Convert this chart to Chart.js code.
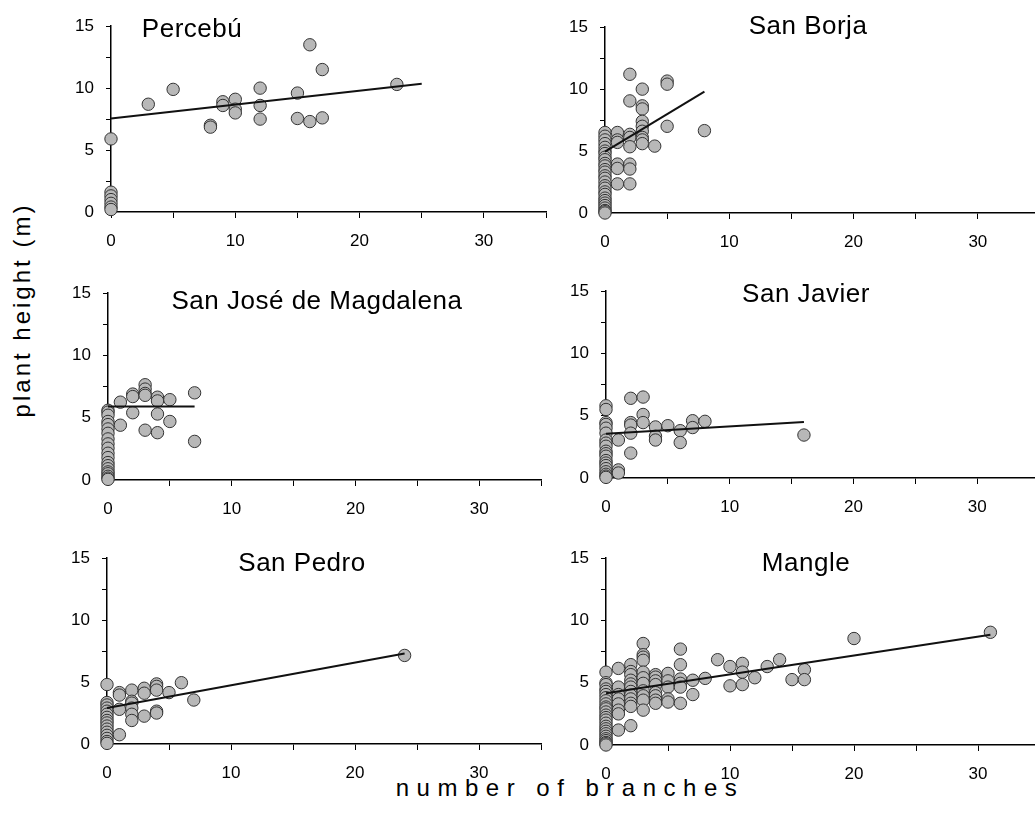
<!DOCTYPE html>
<html>
<head>
<meta charset="utf-8">
<script src="https://cdn.jsdelivr.net/npm/chart.js@4.4.1/dist/chart.umd.min.js"></script>
<style>
  html, body { margin:0; padding:0; background:#fff; overflow:hidden; width:1035px; height:830px; }
  canvas { position:absolute; }
  .ttl { position:absolute; font-family:"Liberation Sans", Arial, sans-serif; font-size:26px; line-height:26px; color:#000; white-space:nowrap; transform:translateX(-50%); letter-spacing:0.5px; }
  .axt { position:absolute; font-family:"Liberation Sans", Arial, sans-serif; font-size:24px; line-height:24px; color:#000; white-space:nowrap; }
</style>
</head>
<body>
<div class="axt" id="ylab" style="left:22px; top:310px; transform:translate(-50%,-50%) rotate(-90deg); letter-spacing:3px;">plant height (m)</div>
<div class="axt" id="xlab" style="left:570px; top:788px; transform:translate(-50%,-50%); letter-spacing:7.5px;">number of branches</div>
<script>
// ---- data (x = number of branches, y = plant height in m) ----
const siteNames = ["Percebú", "San Borja", "San José de Magdalena", "San Javier", "San Pedro", "Mangle"];

const percebu = [[0,5.9],[0,1.6],[0,1.3],[0,1.0],[0,0.7],[0,0.4],[0,0.2],
  [3,8.7],[5,9.9],[8,7.0],[8,6.85],[9,8.9],[9,8.6],[10,9.1],[10,8.3],[10,8.0],
  [12,10.0],[12,8.6],[12,7.5],[15,9.6],[15,7.55],[16,13.5],[16,7.3],[17,11.5],[17,7.6],[23,10.3]];
const percebuFit = [[0,7.55],[25,10.35]];

const sanBorja = [[0,6.5],[0,6.2],[0,5.9],[0,5.6],[0,5.3],[0,5.0],[0,4.8],[0,4.5],[0,4.3],[0,4.0],
  [0,3.8],[0,3.5],[0,3.3],[0,3.0],[0,2.8],[0,2.5],[0,2.2],[0,2.0],[0,1.7],[0,1.5],[0,1.2],[0,1.0],
  [0,0.8],[0,0.6],[0,0.4],[0,0.2],[0,0.1],[0,0.0],
  [1,6.5],[1,5.9],[1,5.7],[1,3.95],[1,3.6],[1,2.35],
  [2,11.2],[2,9.05],[2,6.35],[2,6.1],[2,5.35],[2,3.95],[2,3.55],[2,2.35],
  [3,10.0],[3,8.65],[3,8.4],[3,7.4],[3,7.0],[3,6.6],[3,6.1],[3,5.9],[3,5.6],
  [4,5.4],[5,10.65],[5,10.4],[5,7.0],[8,6.65]];
const sanBorjaFit = [[0,4.95],[8,9.8]];

const sanJose = [[0,5.6],[0,5.45],[0,5.2],[0,4.7],[0,4.45],[0,4.1],[0,3.75],[0,3.3],[0,2.9],[0,2.55],
  [0,2.15],[0,1.8],[0,1.4],[0,1.15],[0,0.9],[0,0.65],[0,0.5],[0,0.3],[0,0.15],[0,0.05],
  [1,6.25],[1,4.4],[2,6.9],[2,6.7],[2,5.4],[3,7.65],[3,7.3],[3,6.95],[3,6.8],[3,4.0],
  [4,6.65],[4,6.35],[4,5.3],[4,3.8],[5,6.45],[5,4.7],[7,7.0],[7,3.1]];
const sanJoseFit = [[0,5.9],[7,5.9]];

const sanJavier = [[0,5.8],[0,5.5],[0,4.45],[0,4.3],[0,4.0],[0,3.6],[0,3.05],[0,2.8],[0,2.55],[0,2.15],
  [0,1.95],[0,1.75],[0,1.4],[0,1.2],[0,1.0],[0,0.75],[0,0.5],[0,0.3],[0,0.15],[0,0.05],
  [1,3.05],[1,0.65],[1,0.4],[2,6.4],[2,4.45],[2,4.25],[2,3.6],[2,2.0],[3,6.5],[3,5.1],[3,4.45],
  [4,4.1],[4,3.35],[4,3.05],[5,4.2],[6,3.8],[6,2.85],[7,4.6],[7,4.05],[8,4.55],[16,3.45]];
const sanJavierFit = [[0,3.55],[16,4.5]];

const sanPedro = [[0,4.8],[0,3.35],[0,3.15],[0,2.9],[0,2.65],[0,2.4],[0,2.15],[0,1.9],[0,1.7],[0,1.45],
  [0,1.2],[0,0.95],[0,0.7],[0,0.45],[0,0.2],[0,0.05],
  [1,4.15],[1,3.95],[1,2.8],[1,0.75],[2,4.35],[2,3.45],[2,3.3],[2,2.9],[2,2.4],[2,1.9],
  [3,4.5],[3,4.1],[3,2.25],[4,4.85],[4,4.65],[4,4.35],[4,2.65],[4,2.5],[5,4.15],[6,4.95],[7,3.55],[24,7.15]];
const sanPedroFit = [[0,2.9],[24,7.3]];

const mangle = [[0,5.85],[0,5.0],[0,4.85],[0,4.5],[0,4.3],[0,4.05],[0,3.8],[0,3.55],[0,3.3],[0,3.05],
  [0,2.9],[0,2.65],[0,2.4],[0,2.2],[0,2.0],[0,1.75],[0,1.5],[0,1.3],[0,1.1],[0,0.9],[0,0.7],[0,0.5],
  [0,0.35],[0,0.2],[0,0.1],[0,0.0],
  [1,6.15],[1,4.65],[1,4.05],[1,3.7],[1,3.3],[1,2.8],[1,2.5],[1,1.2],
  [2,6.45],[2,5.9],[2,5.65],[2,5.2],[2,4.9],[2,4.65],[2,4.3],[2,4.0],[2,3.7],[2,3.35],[2,3.1],[2,1.55],
  [3,8.15],[3,7.25],[3,7.05],[3,6.8],[3,5.85],[3,5.4],[3,4.95],[3,4.35],[3,3.95],[3,3.6],[3,2.8],
  [4,5.65],[4,5.45],[4,5.15],[4,4.85],[4,4.2],[4,3.95],[4,3.6],[4,3.35],
  [5,5.75],[5,5.15],[5,4.65],[5,3.7],[5,3.45],
  [6,7.7],[6,6.45],[6,5.3],[6,4.95],[6,4.65],[6,3.35],
  [7,5.2],[7,4.05],[8,5.35],[9,6.85],[10,6.3],[10,4.75],[11,6.55],[11,5.85],[11,4.85],
  [12,5.4],[13,6.3],[14,6.85],[15,5.25],[16,6.05],[16,5.25],[20,8.55],[31,9.05]];
const mangleFit = [[0,4.15],[31,8.85]];

const siteData = [percebu, sanBorja, sanJose, sanJavier, sanPedro, mangle];
const siteFits = [percebuFit, sanBorjaFit, sanJoseFit, sanJavierFit, sanPedroFit, mangleFit];

const xTickLabels = [0, 10, 20, 30];
const yTickLabels = [0, 5, 10, 15];

// ---- layout (chart-area left, top, width, height; title centre x and cap top) ----
const panels = [
  {l:111, t:16,  w:436, h:196, tx:192, ty:18},
  {l:605, t:16.5,w:436, h:196.5, tx:808, ty:15},
  {l:108, t:283, w:434, h:197, tx:317, ty:290},
  {l:606, t:281, w:434, h:197, tx:806, ty:283},
  {l:107, t:548, w:435, h:196, tx:302, ty:552},
  {l:606, t:548, w:435, h:197, tx:806, ty:552}
];

const YW = 60, XH = 45, PT = 12, PR = 12;
const tickFont = {family:"'Liberation Sans', Arial, sans-serif", size:17};

panels.forEach((p, i) => {
  const c = document.createElement('canvas');
  const W = YW + p.w + PR, H = PT + p.h + XH;
  c.width = W; c.height = H;
  c.style.left = (p.l - YW) + 'px';
  c.style.top = (p.t - PT) + 'px';
  c.style.width = W + 'px'; c.style.height = H + 'px';
  document.body.appendChild(c);

  const t = document.createElement('div');
  t.className = 'ttl';
  t.textContent = siteNames[i];
  t.style.left = p.tx + 'px';
  t.style.top = (p.ty - 3.5) + 'px';
  document.body.appendChild(t);

  new Chart(c, {
    type: 'scatter',
    data: {
      datasets: [
        {
          type: 'line',
          data: siteFits[i].map(d => ({x:d[0], y:d[1]})),
          borderColor: '#111', borderWidth: 2, pointRadius: 0, fill: false,
          order: 0, clip: false
        },
        {
          data: siteData[i].map(d => ({x:d[0], y:d[1]})),
          backgroundColor: '#b8b8b8', borderColor: '#333', borderWidth: 1,
          pointRadius: 6.2, order: 1, clip: false
        }
      ]
    },
    options: {
      responsive: false, animation: false, devicePixelRatio: 1,
      layout: {padding: {top: PT, right: PR, left: 0, bottom: 0}},
      plugins: {legend: {display: false}, tooltip: {enabled: false}, title: {display:false}},
      scales: {
        x: {
          type: 'linear', min: 0, max: 35,
          afterFit: s => { s.height = XH; },
          ticks: {stepSize: 5, autoSkip: false, maxRotation: 0, color: '#000', font: tickFont, padding: 13,
                  callback: v => xTickLabels.includes(v) ? String(v) : ''},
          grid: {display: true, drawOnChartArea: false, drawTicks: true, tickLength: 6, color: '#000', lineWidth: 1},
          border: {display: true, color: '#000', width: 1.5}
        },
        y: {
          type: 'linear', min: 0, max: 15,
          afterFit: s => { s.width = YW; },
          ticks: {stepSize: 2.5, autoSkip: false, color: '#000', font: tickFont, padding: 12,
                  callback: v => yTickLabels.includes(v) ? String(v) : ''},
          grid: {display: true, drawOnChartArea: false, drawTicks: true, tickLength: 5, color: '#000', lineWidth: 1},
          border: {display: true, color: '#000', width: 1.5}
        }
      }
    }
  });
});
</script>
</body>
</html>
